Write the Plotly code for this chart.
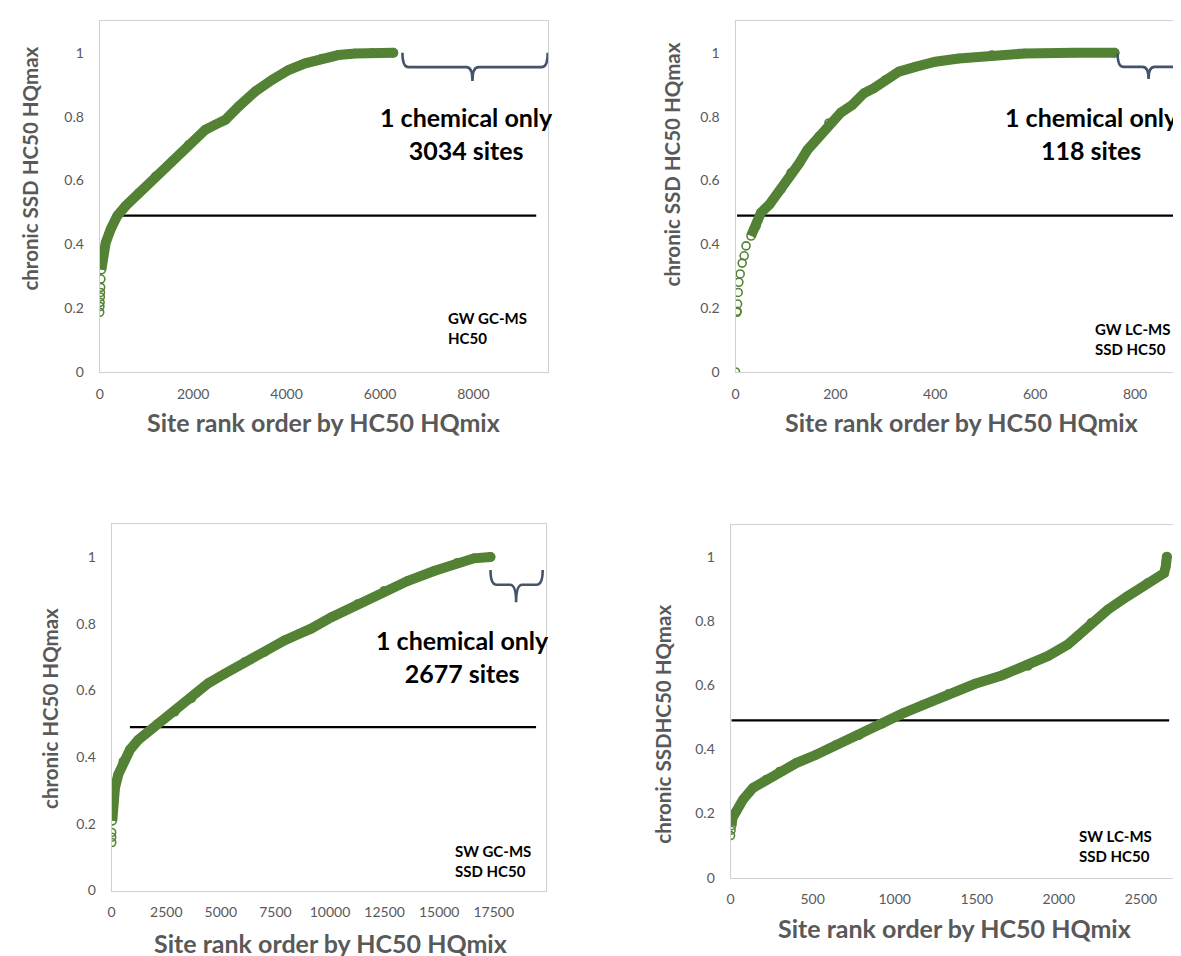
import plotly.graph_objects as go

GREEN = "#548235"
GRAY = "#595959"
BRACE = "#44546A"
FONT = "Lato"

# ---------------- data ----------------
# Panel 1: GW GC-MS HC50
gwgc_rank = [0, 4, 8, 12, 16, 20, 24, 36, 57, 128, 235, 377, 555, 840, 1196, 1552, 1907,
             2263, 2477, 2690, 2975, 3331, 3687, 4043, 4399, 4754, 5110, 5466, 5822, 6285]
gwgc_hq = [0.187, 0.205, 0.218, 0.235, 0.249, 0.265, 0.291, 0.32, 0.353, 0.405, 0.447,
           0.489, 0.520, 0.561, 0.613, 0.660, 0.712, 0.759, 0.775, 0.790, 0.832, 0.879,
           0.915, 0.946, 0.967, 0.982, 0.993, 0.998, 1.0, 1.0]
gwgc_dense_from = 7

# Panel 2: GW LC-MS SSD HC50
gwlc_rank = [0, 2.7, 3, 4, 5.3, 6.6, 9.3, 13.3, 17.3, 21, 31, 41, 51, 68, 91, 111, 128,
             144, 167, 187, 211, 234, 257, 277, 300, 327, 360, 400, 447, 513, 579, 679, 759]
gwlc_hq = [0.0, 0.187, 0.19, 0.213, 0.249, 0.281, 0.307, 0.341, 0.364, 0.395, 0.426,
           0.457, 0.499, 0.525, 0.572, 0.624, 0.655, 0.696, 0.738, 0.780, 0.813, 0.837,
           0.873, 0.889, 0.915, 0.941, 0.956, 0.972, 0.982, 0.993, 0.998, 1.0, 1.0]
gwlc_dense_from = 10

# Panel 3: SW GC-MS SSD HC50
swgc_rank = [0, 0, 0, 30, 76, 152, 304, 533, 837, 1218, 1674, 2131, 2892, 3653, 4414,
             5175, 6088, 7001, 7914, 8599, 9132, 10045, 11263, 12480, 13546, 14763,
             15828, 16589, 17350]
swgc_hq = [0.144, 0.16, 0.174, 0.209, 0.258, 0.308, 0.348, 0.387, 0.422, 0.452, 0.477,
           0.501, 0.536, 0.576, 0.621, 0.650, 0.685, 0.715, 0.750, 0.770, 0.785, 0.819,
           0.859, 0.899, 0.928, 0.958, 0.983, 0.996, 1.0]
swgc_dense_from = 3

# Panel 4: SW LC-MS SSD HC50
swlc_rank = [0, 3, 6, 12, 36, 77, 137, 218, 299, 400, 521, 642, 784, 925, 1046, 1167,
             1329, 1490, 1652, 1813, 1935, 2056, 2116, 2197, 2298, 2419, 2540, 2641,
             2651, 2655, 2658]
swlc_hq = [0.131, 0.148, 0.162, 0.187, 0.208, 0.244, 0.280, 0.306, 0.331, 0.357, 0.383,
           0.414, 0.444, 0.480, 0.511, 0.537, 0.573, 0.604, 0.630, 0.660, 0.691, 0.727,
           0.753, 0.794, 0.835, 0.877, 0.918, 0.949, 0.969, 0.985, 1.0]
swlc_dense_from = 2

# threshold lines (x extent, level)
thr1_x, thr1_y = [356, 9344], [0.49, 0.49]
thr2_x, thr2_y = [3, 886], [0.49, 0.49]
thr3_x, thr3_y = [837, 19436], [0.49, 0.49]
thr4_x, thr4_y = [6, 2672], [0.49, 0.49]

x_ticks1 = [0, 2000, 4000, 6000, 8000]
x_ticks2 = [0, 200, 400, 600, 800]
x_ticks3 = [0, 2500, 5000, 7500, 10000, 12500, 15000, 17500]
x_ticks4 = [0, 500, 1000, 1500, 2000, 2500]
y_ticks = [0, 0.2, 0.4, 0.6, 0.8, 1]
y_ticktext = ["0", "0.2", "0.4", "0.6", "0.8", "1"]

panels = [
    dict(x=gwgc_rank, y=gwgc_hq, k=gwgc_dense_from, tx=thr1_x, ty=thr1_y, xa="x", ya="y"),
    dict(x=gwlc_rank, y=gwlc_hq, k=gwlc_dense_from, tx=thr2_x, ty=thr2_y, xa="x2", ya="y2"),
    dict(x=swgc_rank, y=swgc_hq, k=swgc_dense_from, tx=thr3_x, ty=thr3_y, xa="x3", ya="y3"),
    dict(x=swlc_rank, y=swlc_hq, k=swlc_dense_from, tx=thr4_x, ty=thr4_y, xa="x4", ya="y4"),
]

fig = go.Figure()
for p in panels:
    fig.add_trace(go.Scatter(x=p["tx"], y=p["ty"], mode="lines", xaxis=p["xa"], yaxis=p["ya"],
                             line=dict(color="black", width=2.2), hoverinfo="skip"))
    fig.add_trace(go.Scatter(x=p["x"][p["k"]:], y=p["y"][p["k"]:], mode="lines",
                             xaxis=p["xa"], yaxis=p["ya"],
                             line=dict(color=GREEN, width=10)))
    fig.add_trace(go.Scatter(x=p["x"], y=p["y"], mode="markers", xaxis=p["xa"], yaxis=p["ya"],
                             marker=dict(symbol="circle-open", size=8, color=GREEN,
                                         line=dict(width=1.6, color=GREEN))))
    # rounded end cap at the top of each curve
    fig.add_trace(go.Scatter(x=p["x"][-1:], y=p["y"][-1:], mode="markers",
                             xaxis=p["xa"], yaxis=p["ya"],
                             marker=dict(symbol="circle", size=10, color=GREEN)))

W, H = 1181, 956


def dx(a, b):
    return [a / W, b / W]


def dy(top, bottom):
    return [1 - bottom / H, 1 - top / H]


axis_common = dict(showline=True, mirror=True, linecolor="#D0D0D0", linewidth=1,
                   showgrid=False, zeroline=False, ticks="",
                   tickfont=dict(family=FONT, size=14, color=GRAY))

layout_axes = dict(
    xaxis=dict(domain=dx(88, 538), anchor="y", range=[0, 9600], tickvals=x_ticks1,
               ticktext=[str(v) for v in x_ticks1], ticklabelstandoff=9, **axis_common),
    yaxis=dict(domain=dy(13, 367), anchor="x", range=[0, 1.1], tickvals=y_ticks,
               ticktext=y_ticktext, ticklabelstandoff=12, **axis_common),
    xaxis2=dict(domain=dx(726, 1177), anchor="y2", range=[0, 900], tickvals=x_ticks2,
                ticktext=[str(v) for v in x_ticks2], ticklabelstandoff=9, **axis_common),
    yaxis2=dict(domain=dy(13, 367), anchor="x2", range=[0, 1.1], tickvals=y_ticks,
                ticktext=y_ticktext, ticklabelstandoff=12, **axis_common),
    xaxis3=dict(domain=dx(100, 536), anchor="y3", range=[0, 19900], tickvals=x_ticks3,
                ticktext=[str(v) for v in x_ticks3], ticklabelstandoff=9, **axis_common),
    yaxis3=dict(domain=dy(520, 890), anchor="x3", range=[0, 1.1], tickvals=y_ticks,
                ticktext=y_ticktext, ticklabelstandoff=12, **axis_common),
    xaxis4=dict(domain=dx(721, 1169), anchor="y4", range=[0, 2720], tickvals=x_ticks4,
                ticktext=[str(v) for v in x_ticks4], ticklabelstandoff=9, **axis_common),
    yaxis4=dict(domain=dy(521, 877), anchor="x4", range=[0, 1.1], tickvals=y_ticks,
                ticktext=y_ticktext, ticklabelstandoff=12, **axis_common),
)

annotations = []
# axis titles
xt = "Site rank order by HC50 HQmix"
for (cx, cy) in [(313, 417), (953, 417), (320, 943), (946, 928)]:
    annotations.append(dict(text=xt, x=cx / W, y=1 - cy / H, xref="paper", yref="paper",
                            showarrow=False, xanchor="center", yanchor="middle",
                            font=dict(family=FONT, size=25, color=GRAY, weight="bold")))
for (t, cx, cy) in [("chronic SSD HC50 HQmax", 18, 162), ("chronic SSD HC50 HQmax", 662, 158),
                    ("chronic HC50 HQmax", 38, 706), ("chronic SSDHC50 HQmax", 653, 722)]:
    annotations.append(dict(text=t, x=cx / W, y=1 - cy / H, xref="paper", yref="paper",
                            showarrow=False, textangle=-90, xanchor="center", yanchor="middle",
                            font=dict(family=FONT, size=20.5, color=GRAY, weight="bold")))
# big labels
for (t, x, y, xr, yr) in [("1 chemical only<br>3034 sites", 7851, 0.748, "x", "y"),
                          ("1 chemical only<br>118 sites", 712, 0.748, "x2", "y2"),
                          ("1 chemical only<br>2677 sites", 16066, 0.701, "x3", "y3")]:
    annotations.append(dict(text=t, x=x, y=y, xref=xr, yref=yr, showarrow=False,
                            xanchor="center", yanchor="middle", align="center",
                            font=dict(family=FONT, size=25, color="black", weight="bold")))
# small panel labels
for (t, x, y, xr, yr) in [("GW GC-MS<br>HC50", 7403, 0.138, "x", "y"),
                          ("GW LC-MS<br>SSD HC50", 716, 0.102, "x2", "y2"),
                          ("SW GC-MS<br>SSD HC50", 15610, 0.089, "x3", "y3"),
                          ("SW LC-MS<br>SSD HC50", 2111, 0.10, "x4", "y4")]:
    annotations.append(dict(text=t, x=x, y=y, xref=xr, yref=yr, showarrow=False,
                            xanchor="left", yanchor="middle", align="left",
                            font=dict(family=FONT, size=15, color="black", weight="bold")))


def brace(x1, xc, x2, ytop, ymid, ybot, d, xr, yr):
    path = (f"M {x1},{ytop} Q {x1},{ymid} {x1 + d},{ymid} L {xc - d},{ymid} "
            f"Q {xc},{ymid} {xc},{ybot} Q {xc},{ymid} {xc + d},{ymid} "
            f"L {x2 - d},{ymid} Q {x2},{ymid} {x2},{ytop}")
    return dict(type="path", path=path, xref=xr, yref=yr,
                line=dict(color=BRACE, width=2.6))


shapes = [
    brace(6480, 7979, 9590, 1.0, 0.955, 0.912, 130, "x", "y"),
    brace(765, 827, 898, 0.998, 0.956, 0.918, 12, "x2", "y2"),
    brace(17350, 18523, 19740, 0.961, 0.917, 0.864, 280, "x3", "y3"),
]

fig.update_layout(
    width=W, height=H, margin=dict(l=0, r=0, t=0, b=0),
    paper_bgcolor="white", plot_bgcolor="white", showlegend=False,
    annotations=annotations, shapes=shapes, **layout_axes,
)

fig.write_html("out.html")
